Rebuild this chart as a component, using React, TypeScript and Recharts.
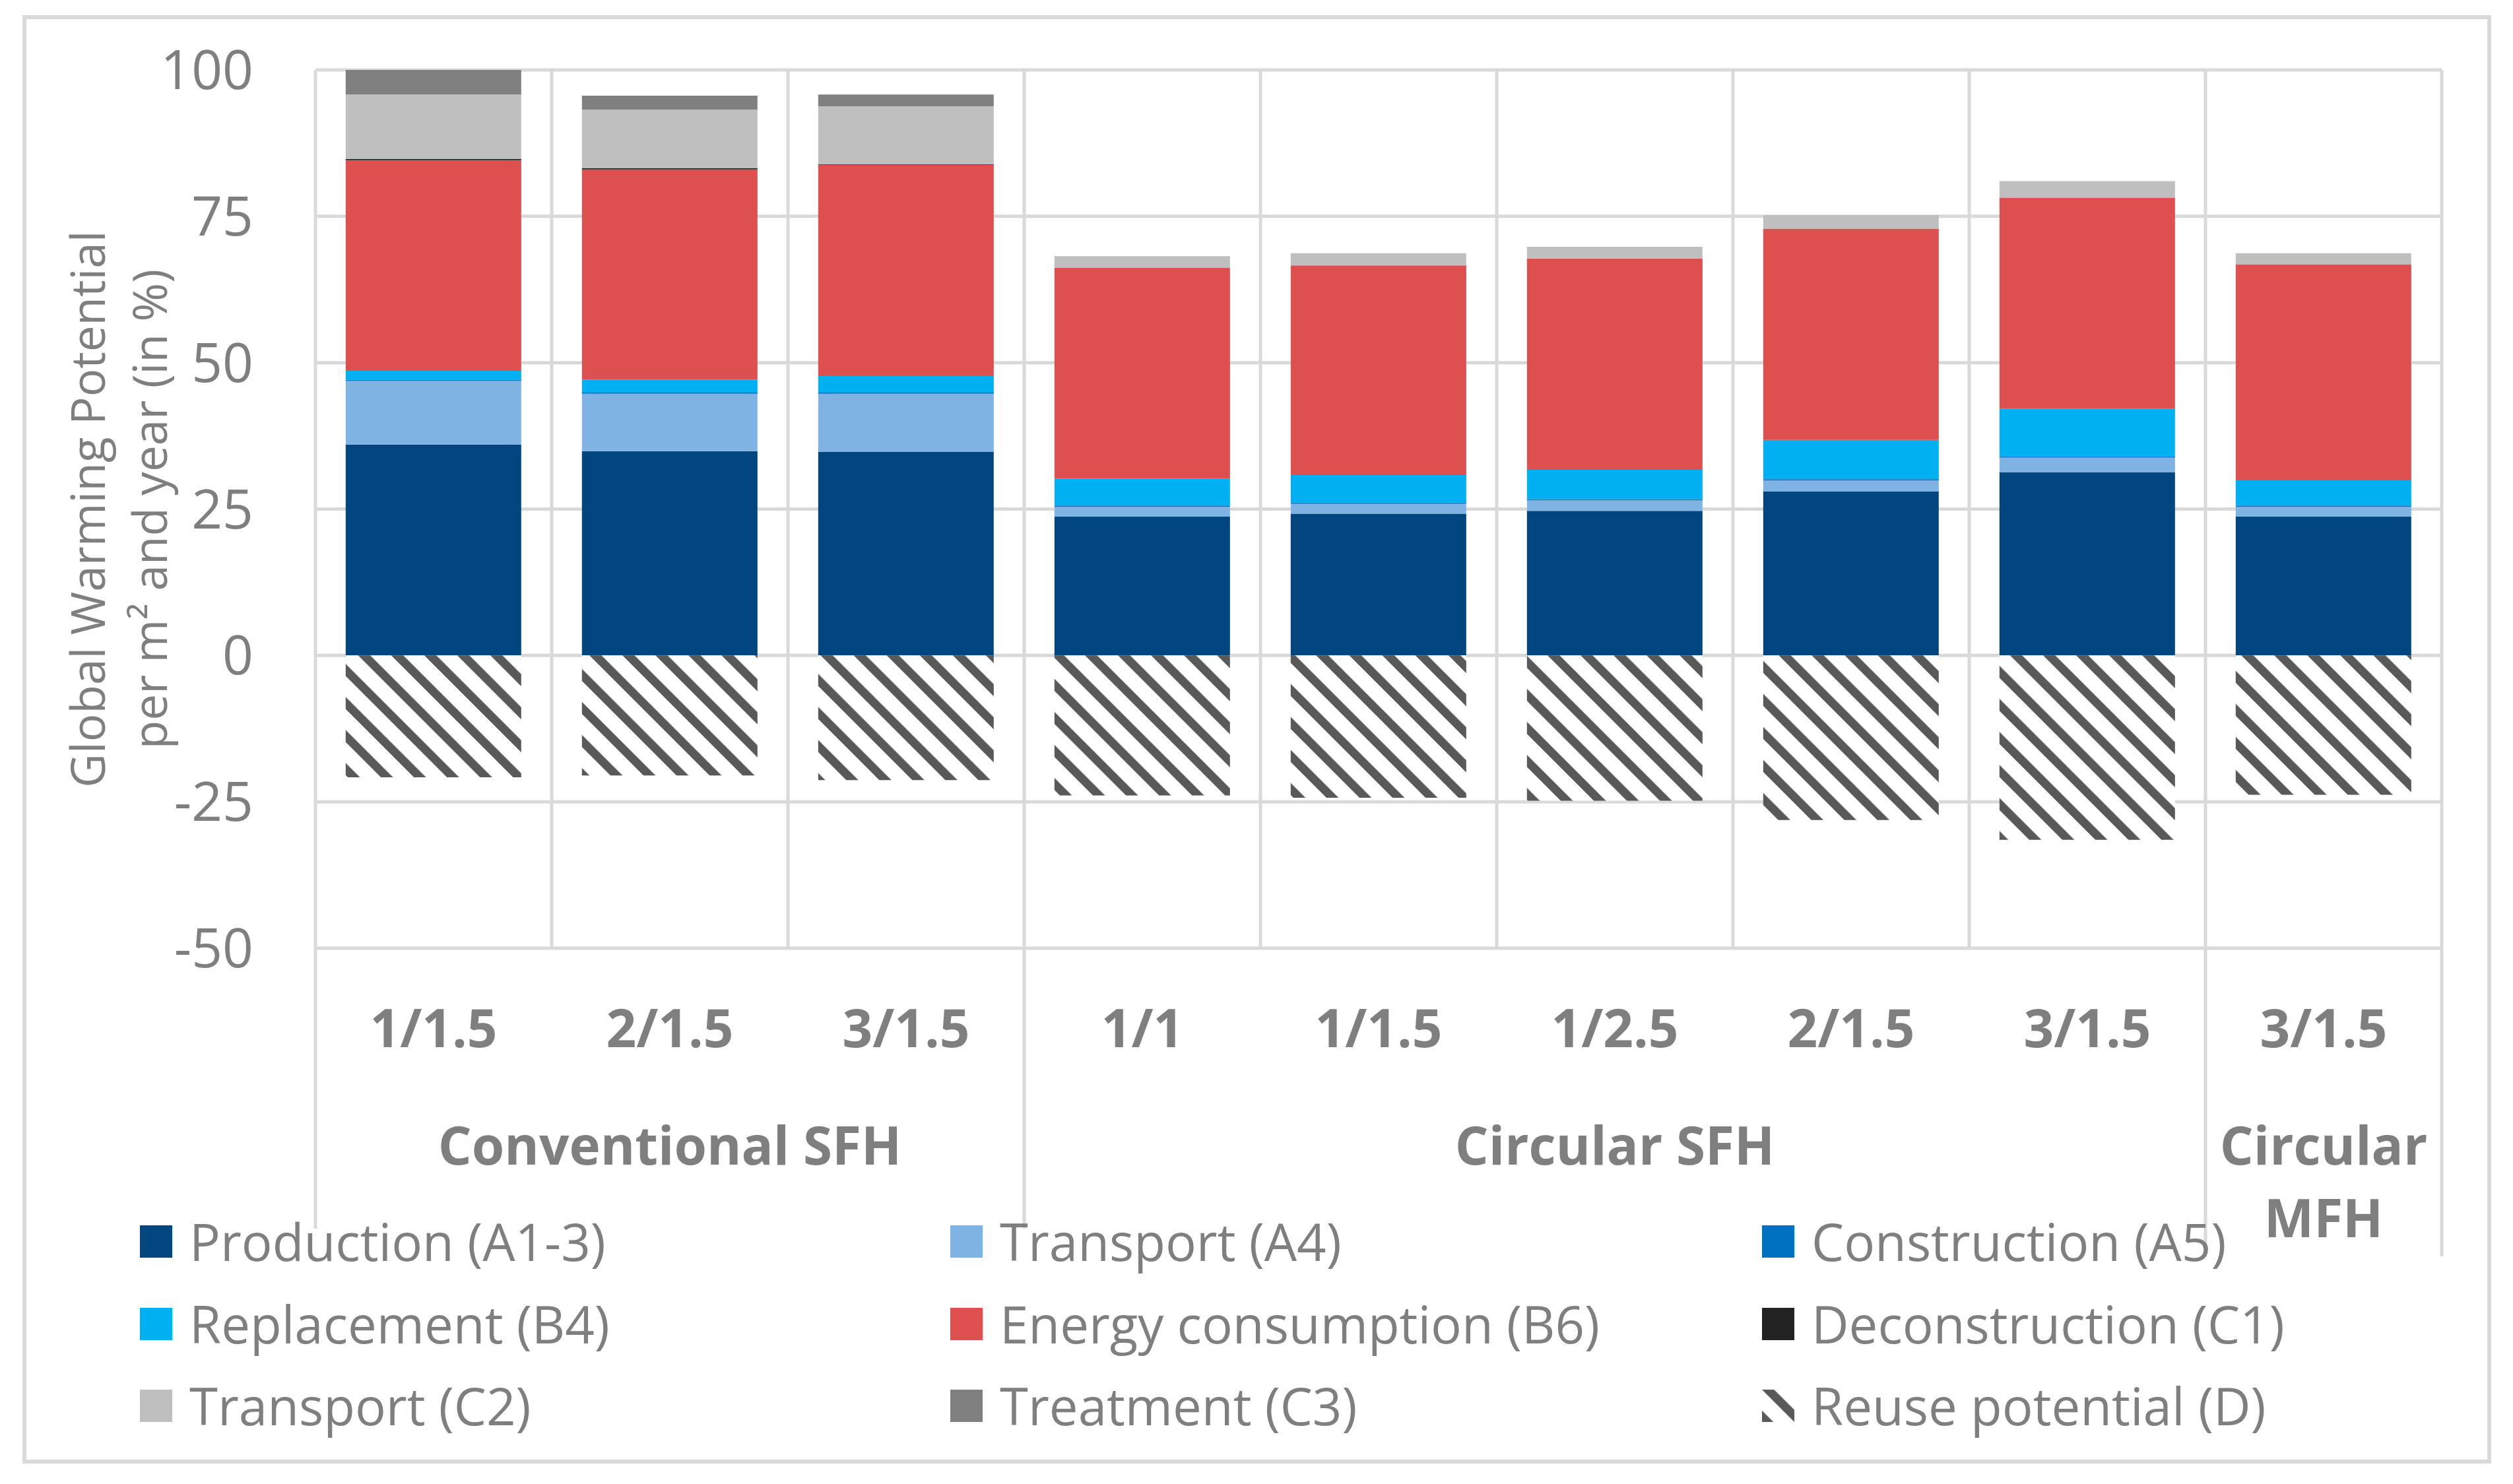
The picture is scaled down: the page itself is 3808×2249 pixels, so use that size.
import React from 'react';
import { BarChart, Bar, XAxis, YAxis, CartesianGrid, Label } from 'recharts';

const categories = ['1/1.5', '2/1.5', '3/1.5', '1/1', '1/1.5', '1/2.5', '2/1.5', '3/1.5', '3/1.5'];
const groupNames = ['Conventional SFH', 'Circular SFH', 'Circular MFH'];
const groupSizes = [3, 5, 1];

const production = [36.0, 34.9, 34.8, 23.7, 24.2, 24.7, 28.0, 31.3, 23.7];
const transportA4 = [10.9, 9.8, 9.9, 1.7, 1.7, 1.8, 1.9, 2.5, 1.7];
const constructionA5 = [0.2, 0.2, 0.2, 0.2, 0.2, 0.2, 0.2, 0.2, 0.2];
const replacementB4 = [1.5, 2.2, 2.8, 4.6, 4.7, 5.0, 6.7, 8.1, 4.3];
const energyB6 = [36.0, 35.9, 36.1, 36.0, 35.8, 36.1, 36.1, 36.1, 36.9];
const deconstructionC1 = [0.2, 0.2, 0.1, 0, 0, 0, 0, 0, 0];
const transportC2 = [11.0, 10.0, 9.9, 2.0, 2.1, 2.0, 2.3, 2.8, 1.9];
const treatmentC3 = [4.2, 2.4, 2.0, 0, 0, 0, 0, 0, 0];
const reuseD = [-20.8, -20.5, -21.3, -23.9, -24.3, -24.8, -28.1, -31.5, -23.8];

const yTicks = [-50, -25, 0, 25, 50, 75, 100];

const series = [
  { key: 'prod', name: 'Production (A1-3)', color: '#02467F', values: production },
  { key: 'a4', name: 'Transport (A4)', color: '#7FB3E4', values: transportA4 },
  { key: 'a5', name: 'Construction (A5)', color: '#0070C0', values: constructionA5 },
  { key: 'b4', name: 'Replacement (B4)', color: '#00B0F0', values: replacementB4 },
  { key: 'b6', name: 'Energy consumption (B6)', color: '#DE4F4F', values: energyB6 },
  { key: 'c1', name: 'Deconstruction (C1)', color: '#222222', values: deconstructionC1 },
  { key: 'c2', name: 'Transport (C2)', color: '#BFBFBF', values: transportC2 },
  { key: 'c3', name: 'Treatment (C3)', color: '#808080', values: treatmentC3 },
  { key: 'd', name: 'Reuse potential (D)', color: 'url(#hatch)', values: reuseD },
];

const TEXT = '#7F7F7F';
const GRID = '#D9D9D9';
const FONT = "'Open Sans', sans-serif";

const CHART_W = 3808;
const CHART_H = 2249;
const MARGIN_TOP = 105;
const EDGE_AXIS_H = 1;
const CAT_AXIS_H = 812;
const PLOT_H = CHART_H - MARGIN_TOP - EDGE_AXIS_H - CAT_AXIS_H;

// group index of each category and the middle category of each group
const groupOf: number[] = [];
groupSizes.forEach((n, g) => {
  for (let i = 0; i < n; i++) groupOf.push(g);
});
const groupStart = groupSizes.map((_, g) => groupSizes.slice(0, g).reduce((a, b) => a + b, 0));
const groupMiddle = groupSizes.map((n, g) => groupStart[g] + Math.floor(n / 2));
const edges = categories.map((_, i) => i).concat(categories.length);
const groupEdges = groupStart.concat(categories.length);

const data = categories.map((label, i) => {
  const row: Record<string, any> = { label, slot: i, group: groupNames[groupOf[i]] };
  series.forEach((s) => {
    row[s.key] = s.values[i];
  });
  return row;
});

const CatTick = (props: any) => {
  const { x, y, payload } = props;
  const index = props.index ?? payload.index;
  const g = groupOf[index];
  const isMiddle = groupMiddle[g] === index;
  const groupLines = groupSizes[g] === 1 ? groupNames[g].split(' ') : [groupNames[g]];
  return (
    <g>
      <text x={x} y={y + 150} textAnchor="middle" fill={TEXT} fontSize={80} fontWeight={700} fontFamily={FONT}>
        {payload.value}
      </text>
      {isMiddle &&
        groupLines.map((line, k) => (
          <text
            key={k}
            x={x}
            y={y + 328 + k * 110}
            textAnchor="middle"
            fill={TEXT}
            fontSize={80}
            fontWeight={700}
            fontFamily={FONT}
          >
            {line}
          </text>
        ))}
    </g>
  );
};

// group separators of the two-level category axis, running below the plot
// (the edge axis sits on top, so its tick y is the plot top)
const EdgeTick = (props: any) => {
  const { x, y, payload } = props;
  if (!groupEdges.includes(payload.value)) return <g />;
  const len = payload.value >= groupStart[groupStart.length - 1] ? 467 : 425;
  const top = y + PLOT_H;
  return <line x1={x} x2={x} y1={top} y2={top + len} stroke={GRID} strokeWidth={5} />;
};

const YLabel = (props: any) => {
  const vb = props.viewBox;
  const cy = vb.y + vb.height / 2;
  const lines = [
    { x: 131, text: 'Global Warming Potential' },
    { x: 225, text: 'per m\u00B2 and year (in %)' },
  ];
  return (
    <g>
      {lines.map((l) => (
        <text
          key={l.x}
          x={l.x}
          y={cy}
          transform={`rotate(-90, ${l.x}, ${cy})`}
          textAnchor="middle"
          dominantBaseline="central"
          fill={TEXT}
          fontSize={71}
          fontFamily={FONT}
        >
          {l.text}
        </text>
      ))}
    </g>
  );
};

const HatchDefs = ({ id }: { id: string }) => (
  <defs>
    <pattern id={id} patternUnits="userSpaceOnUse" width={35.4} height={20} patternTransform="rotate(-45)">
      <rect x={0} y={0} width={35.4} height={20} fill="#FFFFFF" />
      <rect x={0} y={0} width={13} height={20} fill="#595959" />
    </pattern>
  </defs>
);

const legendColumns = [212, 1440, 2670];
const legendRows = [1881, 2006, 2130];

const ChartLegend = () => (
  <>
    {series.map((s, i) => {
      const col = legendColumns[i % 3];
      const row = legendRows[Math.floor(i / 3)];
      return (
        <div
          key={s.key}
          style={{
            position: 'absolute',
            left: col,
            top: row - 60,
            height: 120,
            display: 'flex',
            alignItems: 'center',
            whiteSpace: 'nowrap',
          }}
        >
          <svg width={49} height={49} style={{ display: 'block' }}>
            {s.key === 'd' && <HatchDefs id="hatchLegend" />}
            <rect width={49} height={49} fill={s.key === 'd' ? 'url(#hatchLegend)' : s.color} />
          </svg>
          <span style={{ marginLeft: 26, fontFamily: FONT, fontSize: 78, color: TEXT, lineHeight: '120px' }}>
            {s.name}
          </span>
        </div>
      );
    })}
  </>
);

export default function App() {
  return (
    <div style={{ position: 'absolute', left: 0, top: 0, width: CHART_W, height: CHART_H, background: '#FFFFFF' }}>
      <div
        style={{
          position: 'absolute',
          left: 34,
          top: 23,
          width: 3741,
          height: 2195,
          border: `6px solid ${GRID}`,
          boxSizing: 'border-box',
        }}
      />
      <div style={{ position: 'absolute', left: 0, top: 0 }}>
        <BarChart
          width={CHART_W}
          height={CHART_H}
          data={data}
          stackOffset="sign"
          barCategoryGap="12.8%"
          margin={{ top: MARGIN_TOP, right: 108, bottom: 0, left: 0 }}
          style={{ fontFamily: FONT }}
        >
          <HatchDefs id="hatch" />
          <CartesianGrid xAxisId="edge" stroke={GRID} strokeWidth={5} />
          <XAxis
            xAxisId="edge"
            orientation="top"
            type="number"
            dataKey="slot"
            domain={[0, categories.length]}
            allowDataOverflow
            ticks={edges}
            interval={0}
            height={EDGE_AXIS_H}
            axisLine={false}
            tickLine={false}
            tickSize={0}
            tickMargin={0}
            tick={<EdgeTick />}
          />
          <XAxis
            xAxisId="cat"
            dataKey="label"
            interval={0}
            height={CAT_AXIS_H}
            axisLine={false}
            tickLine={false}
            tickSize={0}
            tickMargin={0}
            tick={<CatTick />}
          />
          <YAxis
            domain={[-50, 100]}
            ticks={yTicks}
            interval={0}
            width={478}
            axisLine={false}
            tickLine={false}
            tickSize={0}
            tickMargin={94}
            tick={{ fill: TEXT, fontSize: 82, fontFamily: FONT }}
          >
            <Label content={<YLabel />} />
          </YAxis>
          {series.map((s) => (
            <Bar
              key={s.key}
              xAxisId="cat"
              dataKey={s.key}
              name={s.name}
              stackId="gwp"
              fill={s.color}
              isAnimationActive={false}
            />
          ))}
        </BarChart>
      </div>
      <ChartLegend />
    </div>
  );
}
